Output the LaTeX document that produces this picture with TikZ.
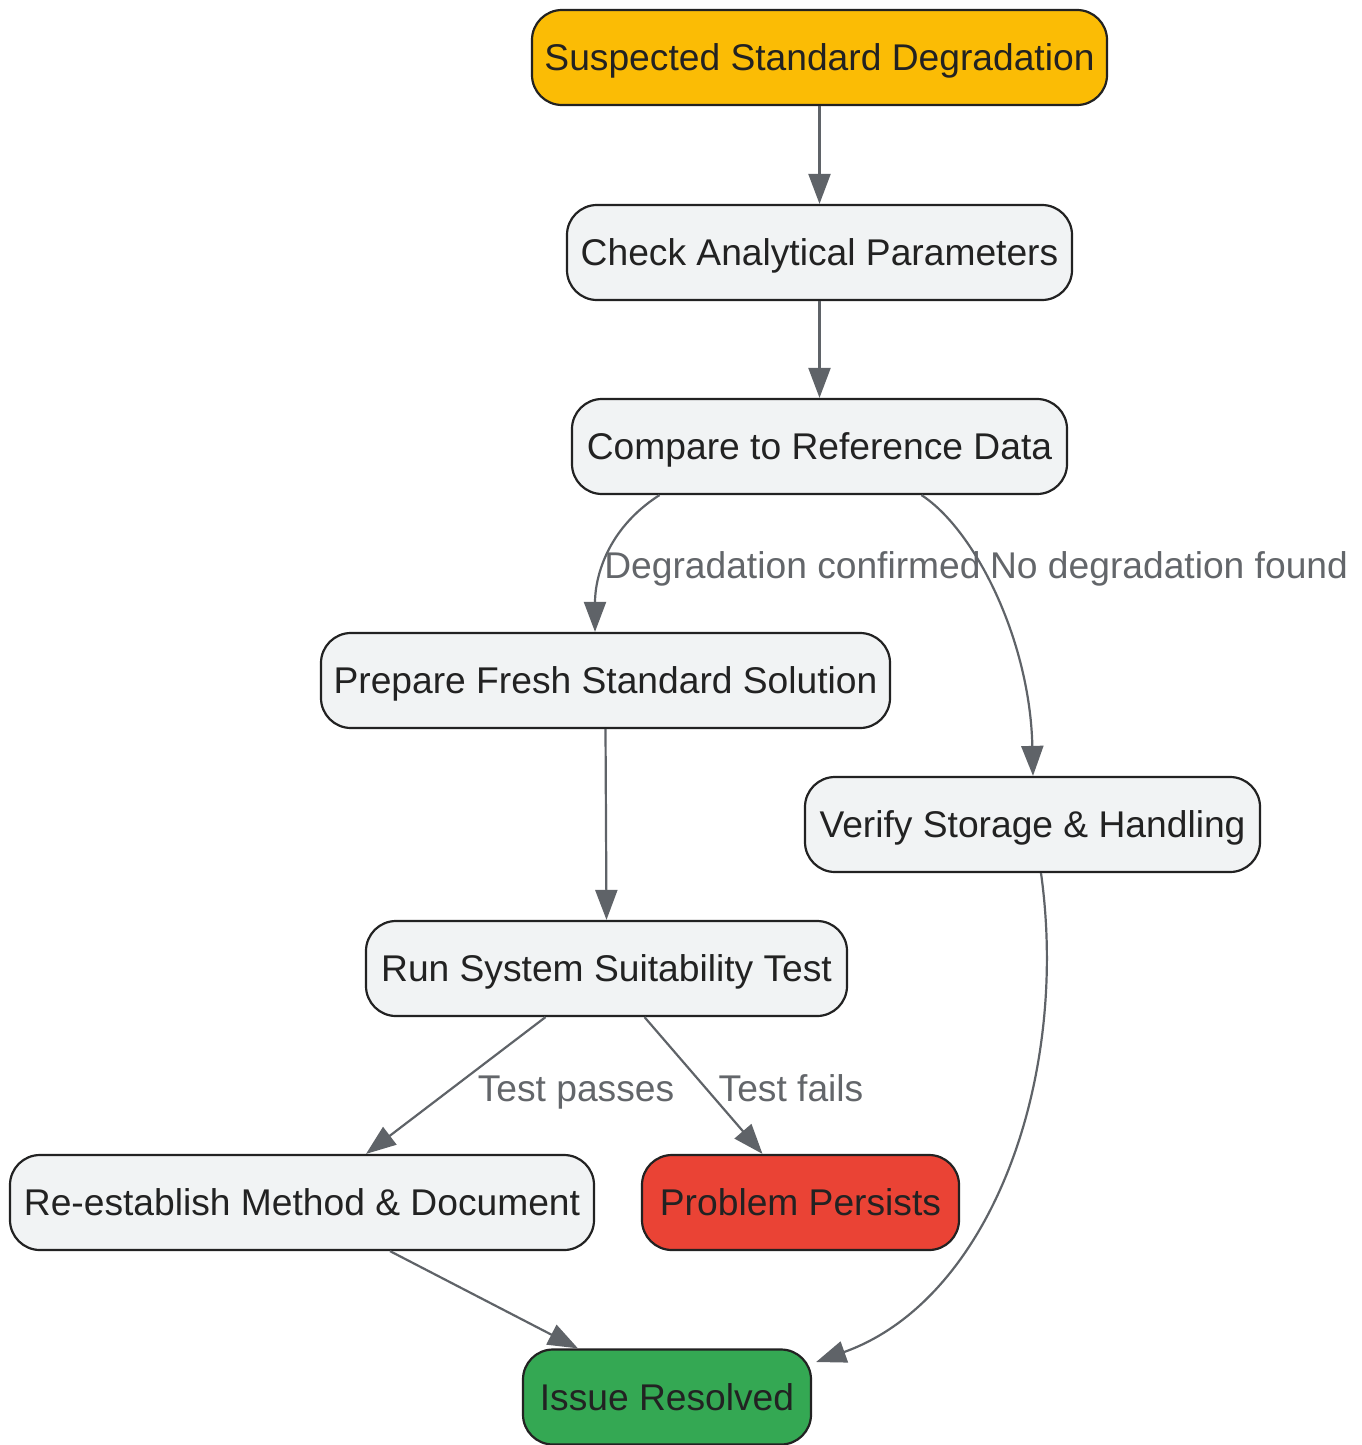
\documentclass[tikz,border=0pt]{standalone}
\usepackage{fontspec}
\setmainfont{Liberation Sans}
\usetikzlibrary{arrows.meta}
\definecolor{nodefill}{HTML}{F1F3F4}
\definecolor{nodeline}{HTML}{222222}
\definecolor{edgecol}{HTML}{5F6368}
\definecolor{labcol}{HTML}{63666A}
\definecolor{amber}{HTML}{FBBC05}
\definecolor{redc}{HTML}{EA4335}
\definecolor{greenc}{HTML}{34A853}
\tikzset{
  box/.style={draw=nodeline, line width=2.2pt, fill=nodefill, rounded corners=30pt,
    minimum height=95pt, inner sep=0pt, text=nodeline, text height=26.6pt, text depth=0pt,
    font=\fontsize{37.2}{40}\selectfont},
  edge/.style={draw=edgecol, line width=2.2pt, -{Triangle[length=30pt,width=22pt]}},
  lab/.style={text=labcol, font=\fontsize{37.2}{40}\selectfont, inner sep=0pt,
    text height=26.6pt, text depth=0pt}
}
\begin{document}
\begin{tikzpicture}[x=1pt,y=-1pt]
\useasboundingbox (0,0) rectangle (1361,1445);
\node[box, fill=amber, minimum width=575pt] (start) at (819.5,57.5) {Suspected Standard Degradation};
\node[box, minimum width=505pt] (check) at (819.5,252.5) {Check Analytical Parameters};
\node[box, minimum width=495pt] (compare) at (819.5,446.5) {Compare to Reference Data};
\node[box, minimum width=569pt] (prepare) at (605.5,680.5) {Prepare Fresh Standard Solution};
\node[box, minimum width=455pt] (verify) at (1032.5,824.5) {Verify Storage \& Handling};
\node[box, minimum width=481pt] (run) at (606.5,968.5) {Run System Suitability Test};
\node[box, minimum width=584pt] (reest) at (302,1202.5) {Re-establish Method \& Document};
\node[box, fill=redc, minimum width=317pt] (problem) at (800.5,1202.5) {Problem Persists};
\node[box, fill=greenc, minimum width=288pt] (issue) at (667,1397) {Issue Resolved};

\draw[edge] (start.south) -- (check.north);
\draw[edge] (check.south) -- (compare.north);
\draw[edge] ([xshift=-160pt]compare.south) .. controls (605,530) and (595,580) .. ([xshift=-10.5pt]prepare.north);
\draw[edge] ([xshift=102pt]compare.south) .. controls (975,530) and (1030,640) .. ([xshift=0.5pt]verify.north);
\draw[edge] (prepare.south) -- (run.north);
\draw[edge] ([xshift=-61pt]run.south) -- ([xshift=64pt]reest.north);
\draw[edge] ([xshift=38pt]run.south) -- ([xshift=-38pt]problem.north);
\draw[edge] ([xshift=88pt]reest.south) -- ([xshift=-89pt]issue.north);
\draw[edge] ([xshift=8.5pt]verify.south) .. controls (1070,1080) and (990,1300) .. ([xshift=4pt,yshift=35pt]issue.east);

\node[lab] (l1) at (792.5,565) {Degradation confirmed};
\node[lab] (l2) at (1169,565) {No degradation found};
\node[lab] (l3) at (576,1088) {Test passes};
\node[lab] (l4) at (791,1088) {Test fails};
\end{tikzpicture}
\end{document}
